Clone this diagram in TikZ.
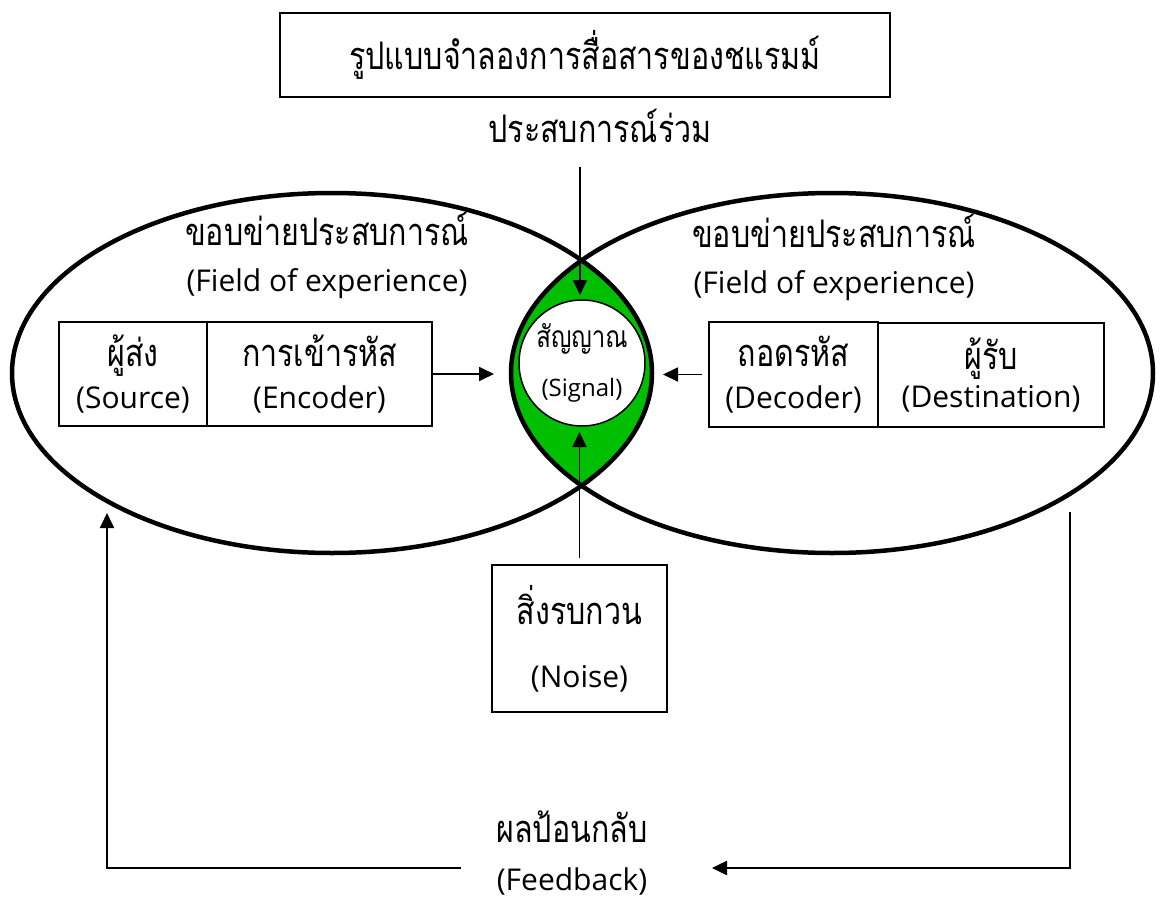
\documentclass[tikz,border=0pt]{standalone}
\usepackage{fontspec}
\setmainfont{Open Sans}
\newfontfamily\thai[Script=Thai, FakeStretch=0.8]{Loma}
\newcommand\thw[2]{{\thai\fontsize{#1}{#1}\selectfont #2}}
\usetikzlibrary{arrows.meta,shapes.geometric}
\definecolor{lensgreen}{RGB}{0,190,0}
\begin{document}
\begin{tikzpicture}[x=1pt,y=-1pt,
  box/.style={draw, line width=1.6pt, inner sep=0pt, outer sep=0pt, align=center, anchor=north west},
  arr/.style={-{Triangle[length=15pt,width=14pt]}, line width=1.8pt},
  txt/.style={align=center, inner sep=0pt},
  fieldline/.style={line width=4.5pt},
]
\useasboundingbox (0,0) rectangle (1163,902);

% lens fill
\begin{scope}
  \clip (332,373) ellipse [x radius=320pt, y radius=180pt];
  \fill[lensgreen] (832,373) ellipse [x radius=321pt, y radius=180pt];
\end{scope}
% fields of experience
\draw[fieldline] (332,373) ellipse [x radius=320pt, y radius=180pt];
\draw[fieldline] (832,373) ellipse [x radius=321pt, y radius=180pt];

% title
\node[box, minimum width=610pt, minimum height=84pt] (title) at (280,13) {\thw{38}{รูปแบบจำลองการสื่อสารของชแรมม์}};
\node[txt] (common) at (600,126) {\thw{38}{ประสบการณ์ร่วม}};

% field labels
\node[txt, font=\fontsize{30}{46}\selectfont] (fieldLlab) at (327,255) {\thw{38}{ขอบข่ายประสบการณ์}\\(Field of experience)};
\node[txt, font=\fontsize{30}{46}\selectfont] (fieldRlab) at (834,257) {\thw{38}{ขอบข่ายประสบการณ์}\\(Field of experience)};

% boxes
\node[box, minimum width=148pt, minimum height=104pt, font=\fontsize{30}{42}\selectfont] (src) at (59,322) {\thw{38}{ผู้ส่ง}\\(Source)};
\node[box, minimum width=225pt, minimum height=104pt, font=\fontsize{30}{42}\selectfont] (enc) at (207,322) {\thw{38}{การเข้ารหัส}\\(Encoder)};
\node[box, minimum width=169pt, minimum height=105pt, font=\fontsize{30}{42}\selectfont] (dec) at (709,322) {\thw{38}{ถอดรหัส}\\(Decoder)};
\node[box, minimum width=226pt, minimum height=104pt, font=\fontsize{30}{38}\selectfont] (dst) at (878,323) {\thw{38}{ผู้รับ}\\(Destination)};
\node[box, minimum width=175pt, minimum height=147pt, font=\fontsize{30}{63}\selectfont] (noise) at (492,565) {\thw{38}{สิ่งรบกวน}\\(Noise)};

% signal
\node[circle, draw, fill=white, line width=1.5pt, minimum size=126pt, inner sep=0pt, outer sep=0pt, align=center, font=\fontsize{24}{49}\selectfont] (sig) at (582,363) {\thw{30}{สัญญาณ}\\(Signal)};

% feedback label
\node[txt, font=\fontsize{30}{48}\selectfont] (fb) at (572,853) {\thw{38}{ผลป้อนกลับ}\\(Feedback)};

% connectors
\coordinate (ctop) at (580,167);
\draw[arr, shorten >=5pt] (ctop) -- (ctop |- sig.north);
\draw[arr, shorten >=25pt] (enc.east) -- (enc.east -| sig.west);
\draw[arr, shorten <=7pt, shorten >=18pt] (dec.west) -- (dec.west -| sig.east);
\draw[arr, shorten <=7pt, shorten >=6pt] (noise.north) -- (noise.north |- sig.south);

\coordinate (fbL) at (461,868);
\coordinate (fbLtip) at (107,513);
\draw[arr] (fbL) -- (fbLtip |- fbL) -- (fbLtip);
\coordinate (fbRtop) at (1070,512);
\coordinate (fbRtip) at (712,868);
\draw[arr, line width=2.5pt] (fbRtop) -- (fbRtop |- fbRtip) -- (fbRtip);
\end{tikzpicture}
\end{document}
